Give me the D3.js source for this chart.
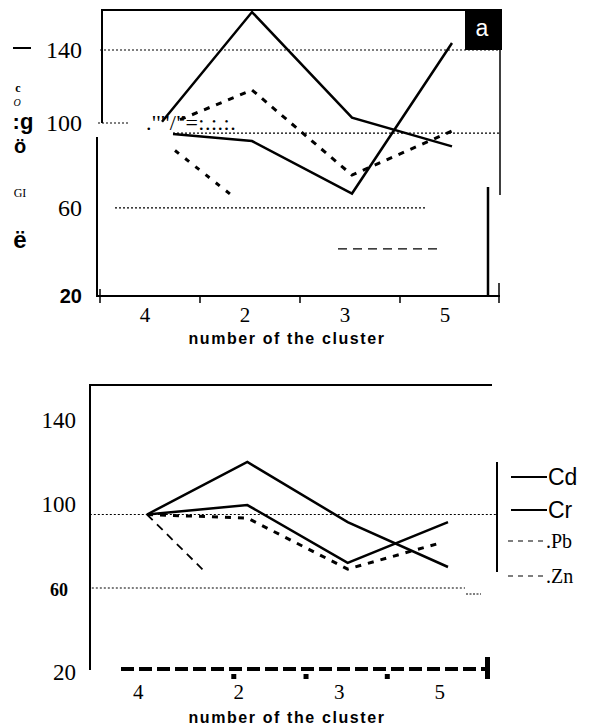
<!DOCTYPE html>
<html lang="en">
  <head>
    <meta charset="UTF-8" />
    <title>Cluster chart</title>
    <style>
      body { margin: 0; background: #fff; }
      svg { display: block; }
    </style>
  </head>
  <body>
    <script src="https://cdn.jsdelivr.net/npm/d3@7"></script>
    <script>
      // categories in the order they appear on the axis
      const categories = ["4", "2", "3", "5"];
      const yTicks = [140, 100, 60, 20];
      const seriesNames = ["Cd", "Cr", "Pb", "Zn"];

      // panel a: [position along axis (category index), value]
      const topCd = [[0.1, 105], [1, 158.5], [2, 107], [3, 93]];
      const topCr = [[0.21, 99], [1, 95.6], [2, 70], [3, 143.4]];
      const topPb = [[0.28, 106], [1, 120.5], [2, 79], [3, 100.5]];
      const topZn = [[0.23, 91], [0.8, 69]];
      const topZnTail = [[1.86, 43], [2.85, 43]];

      // panel b
      const botCd = [[0, 95], [1, 120], [2, 91.4], [3, 70]];
      const botCr = [[0, 95], [1, 99.5], [2, 72], [3, 91.4]];
      const botPb = [[0, 95], [1, 93.3], [2, 69], [2.92, 81.4]];
      const botZn = [[0, 95], [0.58, 67.6]];

      // reference lines: [value, from index, to index]
      const topGrid = [[140, -0.52, 3.48], [99.5, 0.21, 3.48], [63, -0.37, 2.73]];
      const botGrid = [[95, -0.57, 3.49], [60, -0.55, 3.17]];
      // small square marks on the lower axis (category index)
      const botMarks = [0.86, 1.58, 2.39];

      const W = 591, H = 727;
      const svg = d3.select("body").append("svg").attr("width", W).attr("height", H);

      const serif = "'Liberation Serif', 'Times New Roman', serif";
      const sans = "'Liberation Sans', Arial, sans-serif";

      // ---------- panel a ----------
      const xTop = d3.scaleLinear().domain([0, 3]).range([152, 452]);
      const yTop = d3.scaleLinear().domain([20, 140]).range([296, 50]);
      const lineTop = d3.line().x((d) => xTop(d[0])).y((d) => yTop(d[1]));

      const gA = svg.append("g");

      // frame pieces (scanned figure is broken up)
      gA.append("path").attr("d", "M102,123 V10 H502").attr("fill", "none").attr("stroke", "#000").attr("stroke-width", 2);
      gA.append("line").attr("x1", 500).attr("x2", 500).attr("y1", 10).attr("y2", 195).attr("stroke", "#000").attr("stroke-width", 1.5);
      gA.append("line").attr("x1", 97).attr("x2", 97).attr("y1", 137).attr("y2", 297).attr("stroke", "#000").attr("stroke-width", 2);
      gA.append("line").attr("x1", 488).attr("x2", 488).attr("y1", 187).attr("y2", 297).attr("stroke", "#000").attr("stroke-width", 2.5);
      gA.append("line").attr("x1", 499).attr("x2", 499).attr("y1", 283).attr("y2", 303).attr("stroke", "#000").attr("stroke-width", 1.5);

      // gridlines
      gA.selectAll(".grid")
        .data(topGrid)
        .enter()
        .append("line")
        .attr("x1", (d) => xTop(d[1]))
        .attr("x2", (d) => xTop(d[2]))
        .attr("y1", (d) => yTop(d[0]))
        .attr("y2", (d) => yTop(d[0]))
        .attr("stroke", "#000")
        .attr("stroke-width", 1.2)
        .attr("stroke-dasharray", "2,2");
      gA.append("line")
        .attr("x1", 98).attr("x2", 128)
        .attr("y1", 123).attr("y2", 123)
        .attr("stroke", "#000").attr("stroke-dasharray", "2,2");

      // x axis
      const xBandTop = d3.scaleBand().domain(categories).range([100, 500]);
      gA.append("g")
        .attr("transform", "translate(0,296)")
        .call(d3.axisBottom(xBandTop).tickSize(0).tickFormat(""))
        .call((g) => g.select(".domain").attr("stroke-width", 2).attr("d", "M97,0H500"));
      gA.selectAll(".xtick")
        .data([100, 200, 300, 400])
        .enter()
        .append("line")
        .attr("x1", (d) => d).attr("x2", (d) => d)
        .attr("y1", (d, i) => (i === 0 ? 289 : 296)).attr("y2", 303)
        .attr("stroke", "#000").attr("stroke-width", 1.5);
      gA.selectAll(".xlab")
        .data(categories)
        .enter()
        .append("text")
        .attr("x", (d) => xBandTop(d) + xBandTop.bandwidth() / 2 - 5)
        .attr("y", 322)
        .attr("text-anchor", "middle")
        .attr("font-family", serif)
        .attr("font-size", 21)
        .text((d) => d);
      gA.append("text")
        .attr("x", 287).attr("y", 344)
        .attr("text-anchor", "middle")
        .attr("font-family", sans).attr("font-weight", "bold").attr("font-size", 16)
        .attr("letter-spacing", 1.6)
        .text("number of the cluster");

      // y labels (scan positions)
      const topLabelY = { 140: 58, 100: 131, 60: 216 };
      gA.selectAll(".ylab")
        .data(yTicks.slice(0, 3))
        .enter()
        .append("text")
        .attr("x", 82)
        .attr("y", (d) => topLabelY[d])
        .attr("text-anchor", "end")
        .attr("font-family", serif)
        .attr("font-size", 24)
        .text((d) => d);
      gA.append("text")
        .attr("x", 82).attr("y", 303).attr("text-anchor", "end")
        .attr("font-family", sans).attr("font-weight", "bold").attr("font-size", 20)
        .text("20");
      gA.append("line").attr("x1", 13).attr("x2", 31).attr("y1", 48).attr("y2", 48).attr("stroke", "#000").attr("stroke-width", 2);

      // garbled y title from the scan
      const garble = [
        { t: "c", x: 18, y: 92, f: serif, s: 12, w: "bold", st: "normal" },
        { t: "O", x: 17, y: 106, f: serif, s: 10, w: "normal", st: "italic" },
        { t: ":g", x: 23, y: 129, f: sans, s: 22, w: "bold", st: "normal" },
        { t: "ö", x: 20, y: 153, f: sans, s: 20, w: "bold", st: "normal" },
        { t: "GI", x: 20, y: 197, f: serif, s: 12, w: "normal", st: "normal" },
        { t: "ë", x: 20, y: 248, f: sans, s: 24, w: "bold", st: "normal" },
      ];
      gA.selectAll(".garble")
        .data(garble)
        .enter()
        .append("text")
        .attr("x", (d) => d.x).attr("y", (d) => d.y)
        .attr("text-anchor", "middle")
        .attr("font-family", (d) => d.f)
        .attr("font-size", (d) => d.s)
        .attr("font-weight", (d) => d.w)
        .attr("font-style", (d) => d.st)
        .text((d) => d.t);
      gA.append("text")
        .attr("x", 146).attr("y", 130)
        .attr("font-family", serif).attr("font-size", 22)
        .attr("letter-spacing", 0.5)
        .text(".''''/''=:.:.:.");

      // series
      const topStyles = [
        { d: topCd, dash: null, w: 2.5 },
        { d: topCr, dash: null, w: 2.5 },
        { d: topPb, dash: "6,7", w: 3 },
        { d: topZn, dash: "5,8", w: 3 },
        { d: topZnTail, dash: "9,6", w: 1.2 },
      ];
      gA.selectAll(".serie")
        .data(topStyles)
        .enter()
        .append("path")
        .attr("d", (d) => lineTop(d.d))
        .attr("fill", "none")
        .attr("stroke", "#000")
        .attr("stroke-width", (d) => d.w)
        .attr("stroke-dasharray", (d) => d.dash);

      // panel tag
      gA.append("rect").attr("x", 465).attr("y", 10).attr("width", 37).attr("height", 40).attr("fill", "#000");
      gA.append("text")
        .attr("x", 482).attr("y", 36).attr("text-anchor", "middle")
        .attr("font-family", sans).attr("font-size", 23).attr("fill", "#fff")
        .text("a");

      // ---------- panel b ----------
      const xBot = d3.scaleLinear().domain([0, 3]).range([147, 448]);
      const yBot = d3.scaleLinear().domain([20, 140]).range([672, 420]);
      const lineBot = d3.line().x((d) => xBot(d[0])).y((d) => yBot(d[1]));

      const gB = svg.append("g");
      gB.append("path").attr("d", "M90,670 V385 H492").attr("fill", "none").attr("stroke", "#000").attr("stroke-width", 2);

      gB.selectAll(".grid")
        .data(botGrid)
        .enter()
        .append("line")
        .attr("x1", (d) => xBot(d[1]))
        .attr("x2", (d) => xBot(d[2]))
        .attr("y1", (d) => yBot(d[0]))
        .attr("y2", (d) => yBot(d[0]))
        .attr("stroke", "#000")
        .attr("stroke-width", 1.2)
        .attr("stroke-dasharray", "2,2");
      gB.append("line").attr("x1", 466).attr("x2", 481).attr("y1", 594).attr("y2", 594)
        .attr("stroke", "#000").attr("stroke-dasharray", "2,1.5");

      // y labels
      gB.selectAll(".ylab")
        .data(yTicks)
        .enter()
        .append("text")
        .attr("x", (d) => (d === 60 ? 68 : 76))
        .attr("y", (d) => yBot(d) + 8)
        .attr("text-anchor", "end")
        .attr("font-family", serif)
        .attr("font-weight", (d) => (d === 60 ? "bold" : "normal"))
        .attr("font-size", (d) => (d === 60 ? 18 : 23))
        .text((d) => d);

      // dashed x axis line
      gB.append("line").attr("x1", 121).attr("x2", 485).attr("y1", 669).attr("y2", 669)
        .attr("stroke", "#000").attr("stroke-width", 4).attr("stroke-dasharray", "13,5");
      gB.append("rect").attr("x", 485).attr("y", 657).attr("width", 5).attr("height", 22).attr("fill", "#000");
      gB.selectAll(".mark")
        .data(botMarks)
        .enter()
        .append("rect")
        .attr("x", (d) => xBot(d) - 2)
        .attr("y", 674)
        .attr("width", 5)
        .attr("height", 5)
        .attr("fill", "#000");

      const xBandBot = d3.scaleBand().domain(categories).range([88, 490]);
      gB.selectAll(".xlab")
        .data(categories)
        .enter()
        .append("text")
        .attr("x", (d) => xBandBot(d) + xBandBot.bandwidth() / 2)
        .attr("y", 699)
        .attr("text-anchor", "middle")
        .attr("font-family", serif)
        .attr("font-size", 21)
        .text((d) => d);
      gB.append("text")
        .attr("x", 287).attr("y", 723)
        .attr("text-anchor", "middle")
        .attr("font-family", sans).attr("font-weight", "bold").attr("font-size", 16)
        .attr("letter-spacing", 1.6)
        .text("number of the cluster");

      const botStyles = [
        { d: botCd, dash: null, w: 2.5 },
        { d: botCr, dash: null, w: 2.5 },
        { d: botPb, dash: "6,7", w: 3 },
        { d: botZn, dash: "8,6", w: 1.8 },
      ];
      gB.selectAll(".serie")
        .data(botStyles)
        .enter()
        .append("path")
        .attr("d", (d) => lineBot(d.d))
        .attr("fill", "none")
        .attr("stroke", "#000")
        .attr("stroke-width", (d) => d.w)
        .attr("stroke-dasharray", (d) => d.dash);

      // legend
      gB.append("line").attr("x1", 497).attr("x2", 497).attr("y1", 462).attr("y2", 572)
        .attr("stroke", "#000").attr("stroke-width", 2);
      const legend = gB.selectAll(".leg")
        .data(seriesNames)
        .enter()
        .append("g")
        .attr("transform", (d, i) => `translate(0,${[477, 510, 541, 576][i]})`);
      legend.append("line")
        .attr("x1", (d, i) => (i < 2 ? 511 : 508))
        .attr("x2", (d, i) => (i < 2 ? 547 : 544))
        .attr("stroke", "#000")
        .attr("stroke-width", (d, i) => (i < 2 ? 2 : 1.2))
        .attr("stroke-dasharray", (d, i) => (i < 2 ? null : "5,5"));
      legend.append("text")
        .attr("x", (d, i) => (i < 2 ? 548 : 546))
        .attr("y", (d, i) => (i < 2 ? 8 : 7))
        .attr("font-family", (d, i) => (i < 2 ? sans : serif))
        .attr("font-size", (d, i) => (i < 2 ? 23 : 20))
        .text((d, i) => (i < 2 ? d : "." + d));
    </script>
  </body>
</html>
